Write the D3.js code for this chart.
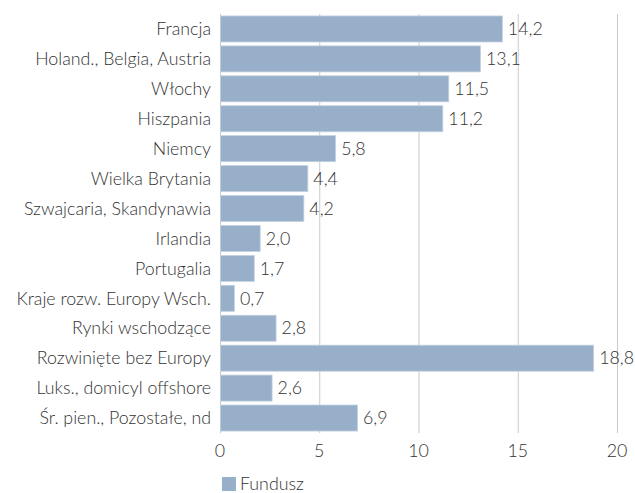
<!DOCTYPE html>
<html>
<head>
<meta charset="utf-8">
<script src="https://cdn.jsdelivr.net/npm/d3@7"></script>
<style>
  body { margin: 0; background: #fff; }
  text { font-family: "Lato", sans-serif; font-weight: 300; fill: #333; }
</style>
</head>
<body>
<svg id="chart" width="635" height="493"></svg>
<script>
// data
const categories = [
  "Francja", "Holand., Belgia, Austria", "Włochy", "Hiszpania", "Niemcy",
  "Wielka Brytania", "Szwajcaria, Skandynawia", "Irlandia", "Portugalia",
  "Kraje rozw. Europy Wsch.", "Rynki wschodzące", "Rozwinięte bez Europy",
  "Luks., domicyl offshore", "Śr. pien., Pozostałe, nd"
];
const values = [14.2, 13.1, 11.5, 11.2, 5.8, 4.4, 4.2, 2.0, 1.7, 0.7, 2.8, 18.8, 2.6, 6.9];
const xTicks = [0, 5, 10, 15, 20];
const seriesName = "Fundusz";

const fontSize = "17.8px";
const svg = d3.select("#chart");
const x = d3.scaleLinear().domain([0, 20]).range([220, 617]);
const y = d3.scaleBand().domain(categories).range([14, 433]).paddingInner(0.13).paddingOuter(0.065);

const fmt = v => d3.format(".1f")(v).replace(".", ",");

// gridlines
svg.append("g").selectAll("line").data(xTicks).enter()
  .append("line")
  .attr("x1", d => x(d) + 0.5).attr("x2", d => x(d) + 0.5)
  .attr("y1", 14).attr("y2", 433)
  .attr("stroke", "#c9c9c9").attr("stroke-width", 1);

// bars
svg.append("g").selectAll("rect").data(values).enter()
  .append("rect")
  .attr("x", x(0) + 0.5)
  .attr("y", (d, i) => y(categories[i]))
  .attr("width", d => x(d) - x(0))
  .attr("height", y.bandwidth())
  .attr("fill", "#98afc9")
  .attr("stroke", "#c5d2e1").attr("stroke-width", 0.8);

// value labels
svg.append("g").selectAll("text").data(values).enter()
  .append("text")
  .attr("x", d => x(d) + 6)
  .attr("y", (d, i) => y(categories[i]) + y.bandwidth() / 2)
  .attr("dy", "0.35em")
  .style("font-size", fontSize)
  .text(d => fmt(d));

// category labels
svg.append("g").selectAll("text").data(categories).enter()
  .append("text")
  .attr("x", 211)
  .attr("y", d => y(d) + y.bandwidth() / 2)
  .attr("dy", "0.35em")
  .attr("text-anchor", "end")
  .style("font-size", fontSize)
  .text(d => d);

// x axis labels
svg.append("g").selectAll("text").data(xTicks).enter()
  .append("text")
  .attr("x", d => x(d))
  .attr("y", 451)
  .attr("dy", "0.35em")
  .attr("text-anchor", "middle")
  .style("font-size", fontSize)
  .text(d => d);

// legend
svg.append("rect").attr("x", 222).attr("y", 477).attr("width", 14).attr("height", 14)
  .attr("fill", "#98afc9");
svg.append("text").attr("x", 240).attr("y", 484).attr("dy", "0.35em")
  .style("font-size", fontSize).text(seriesName);
</script>
</body>
</html>
